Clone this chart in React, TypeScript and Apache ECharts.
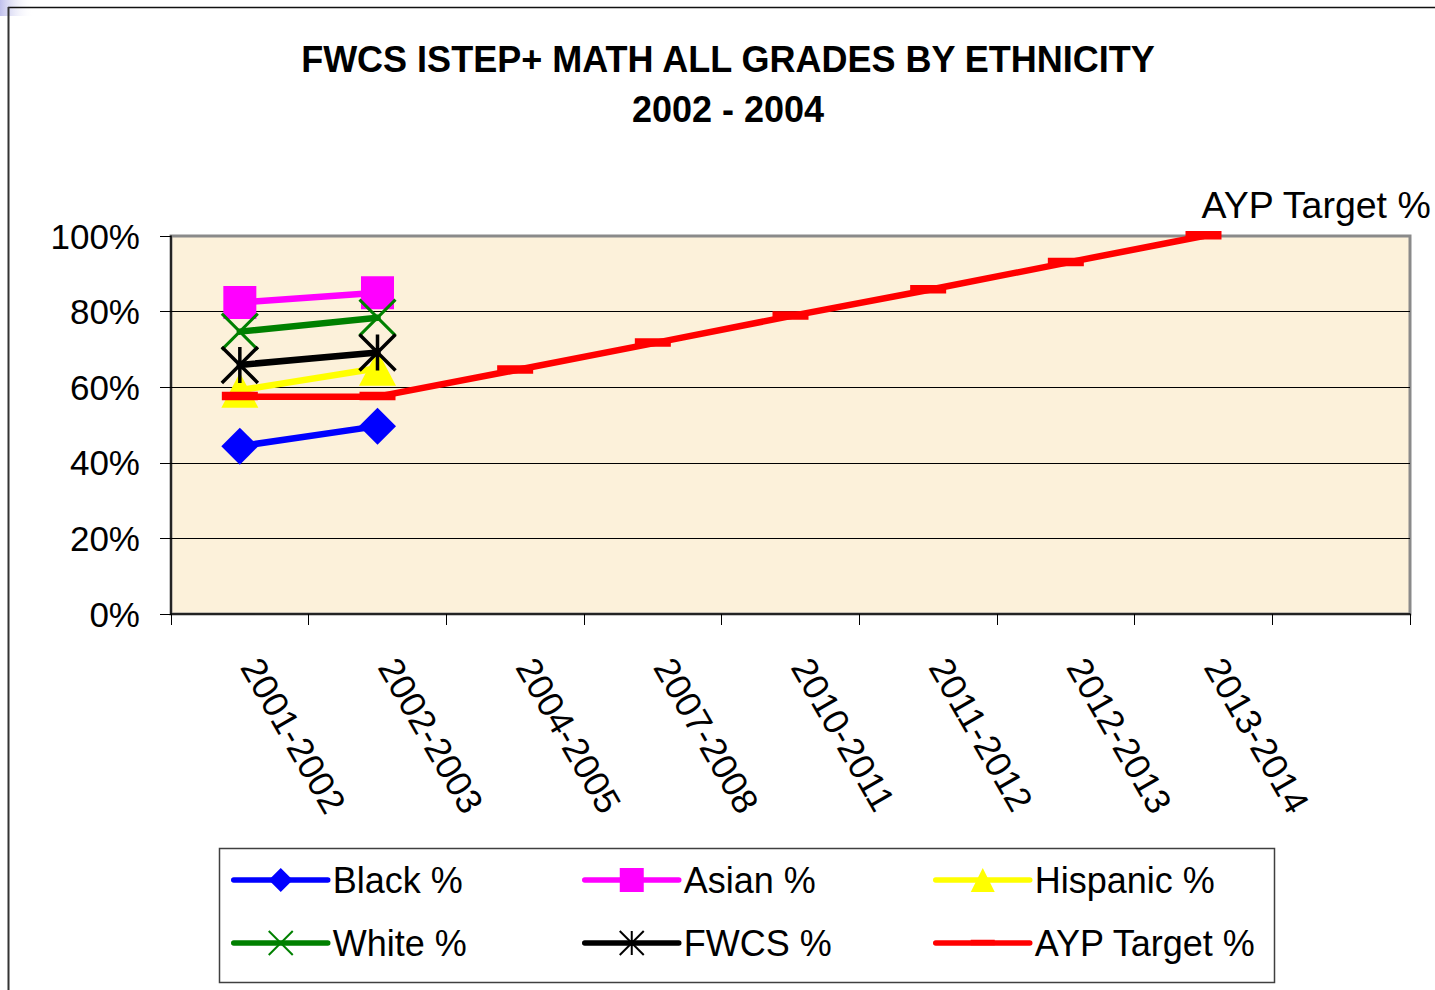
import React, { useEffect, useRef } from 'react';
import * as echarts from 'echarts';

const categories = ['2001-2002', '2002-2003', '2004-2005', '2007-2008', '2010-2011', '2011-2012', '2012-2013', '2013-2014', ''];
const blackPct = [44.4, 49.7];
const asianPct = [82.4, 85.0];
const hispanicPct = [59.2, 65.0];
const whitePct = [74.7, 78.4];
const fwcsPct = [65.9, 69.2];
const aypTargetPct = [57.5, 57.5, 64.5, 71.6, 78.8, 85.7, 92.9, 100];
const titleLines = ['FWCS ISTEP+ MATH ALL GRADES BY ETHNICITY', '2002 - 2004'];
const endLabel = 'AYP Target %';

const FONT = '"Liberation Sans", Arial, Helvetica, sans-serif';

const X_PATH = 'path://M0,0L36,36M36,0L0,36';
const STAR_PATH = 'path://M0,0L36,36M36,0L0,36M18,0L18,36';
const DASH_PATH = 'path://M0,0L0.01,0M36,36L35.99,36M0,13L36,13L36,21.5L0,21.5Z';

function lineSeries(name: string, data: any[], color: string, symbol: string, symbolSize: any, borderWidth = 0, width = 6.5) {
  return {
    name,
    type: 'line',
    data,
    symbol,
    symbolSize,
    showSymbol: true,
    showAllSymbol: true,
    lineStyle: { color, width, cap: 'round', join: 'round' },
    itemStyle: { color, borderColor: color, borderWidth },
    emphasis: { disabled: true },
  };
}

export default function App() {
  const ref = useRef<HTMLDivElement>(null);
  useEffect(() => {
    if (!ref.current) return;
    const chart = echarts.init(ref.current, undefined, { renderer: 'svg' });
    const aypData = aypTargetPct.map((v, i) =>
      i === aypTargetPct.length - 1
        ? {
            value: v,
            label: {
              show: true,
              formatter: endLabel,
              position: [16, -32],
              align: 'left',
              verticalAlign: 'top',
              fontSize: 37.5,
              color: '#000',
              fontFamily: FONT,
            },
          }
        : v
    );
    const legendCommon = {
      orient: 'vertical',
      top: 862,
      padding: 0,
      itemWidth: 94,
      itemHeight: 30,
      itemGap: 27,
      lineStyle: { width: 5.5, cap: 'round' },
      textStyle: { fontSize: 36, color: '#000', fontFamily: FONT },
      selectedMode: false,
    };
    chart.setOption({
      animation: false,
      backgroundColor: '#fff',
      grid: {
        left: 171,
        right: 25,
        top: 236,
        bottom: 376,
        show: true,
        backgroundColor: '#fcf1da',
        borderColor: '#8a8a8a',
        borderWidth: 3,
      },
      legend: [
        { ...legendCommon, left: 231, data: ['Black %', 'White %'] },
        { ...legendCommon, left: 582, data: ['Asian %', 'FWCS %'] },
        { ...legendCommon, left: 933, data: ['Hispanic %', 'AYP Target %'] },
      ],
      xAxis: {
        type: 'category',
        data: categories,
        boundaryGap: true,
        axisLine: { show: true, lineStyle: { color: '#000', width: 1.5 } },
        axisTick: { show: true, interval: 0, length: 11, lineStyle: { color: '#000', width: 1 } },
        axisLabel: {
          interval: 0,
          rotate: -60,
          margin: 53,
          align: 'left',
          verticalAlign: 'bottom',
          lineHeight: 24,
          fontSize: 36,
          color: '#000',
          fontFamily: FONT,
        },
        splitLine: { show: false },
      },
      yAxis: {
        type: 'value',
        min: 0,
        max: 100,
        interval: 20,
        axisLine: { show: true, lineStyle: { color: '#000', width: 1.5 } },
        axisTick: { show: true, length: 11, lineStyle: { color: '#000', width: 1 } },
        axisLabel: { formatter: '{value}%', margin: 31, fontSize: 35, color: '#000', fontFamily: FONT },
        splitLine: { show: true, showMaxLine: false, showMinLine: false, lineStyle: { color: '#000', width: 1 } },
      },
      series: [
        lineSeries('Black %', blackPct, '#0000ff', 'diamond', 37),
        lineSeries('Asian %', asianPct, '#ff00ff', 'rect', 33),
        lineSeries('Hispanic %', hispanicPct, '#ffff00', 'triangle', [37, 35]),
        lineSeries('White %', whitePct, '#008000', X_PATH, 36, 3),
        lineSeries('FWCS %', fwcsPct, '#000000', STAR_PATH, 36, 3.5),
        lineSeries('AYP Target %', aypData, '#ff0000', DASH_PATH, 36, 0),
      ],
      graphic: [
        {
          type: 'rect',
          shape: { x: 0, y: 0, width: 34, height: 16 },
          style: {
            fill: new echarts.graphic.LinearGradient(0, 0, 1, 0, [
              { offset: 0, color: '#c0c0ec' },
              { offset: 1, color: 'rgba(255,255,255,0)' },
            ]),
          },
          z: 0,
        },
        { type: 'line', shape: { x1: 8, y1: 7.5, x2: 1435, y2: 7.5 }, style: { stroke: '#111', lineWidth: 1.5 } },
        { type: 'line', shape: { x1: 8.5, y1: 7, x2: 8.5, y2: 990 }, style: { stroke: '#333', lineWidth: 2 } },
        {
          type: 'rect',
          shape: { x: 219.5, y: 848.5, width: 1055, height: 134 },
          style: { fill: 'transparent', stroke: '#404040', lineWidth: 1.5 },
        },
        {
          type: 'text',
          x: 728,
          y: 59,
          style: {
            text: titleLines[0],
            fontSize: 36,
            fontWeight: 'bold',
            fontFamily: FONT,
            fill: '#000',
            align: 'center',
            verticalAlign: 'middle',
          },
        },
        {
          type: 'text',
          x: 728,
          y: 109,
          style: {
            text: titleLines[1],
            fontSize: 36,
            fontWeight: 'bold',
            fontFamily: FONT,
            fill: '#000',
            align: 'center',
            verticalAlign: 'middle',
          },
        },
      ],
    });
    return () => chart.dispose();
  }, []);
  return <div ref={ref} style={{ position: 'fixed', left: 0, top: 0, width: 1435, height: 990 }} />;
}
